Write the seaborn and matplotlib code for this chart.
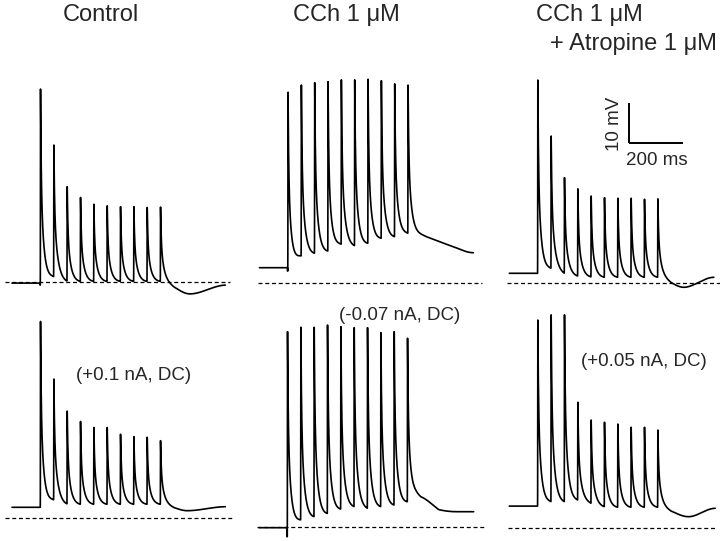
import numpy as np
import pandas as pd
import matplotlib
matplotlib.use("Agg")
import matplotlib.pyplot as plt
import seaborn as sns

# 10 stimuli at 20 Hz, times in ms from the start of each sweep
N_STIM = 10
STIM_ONSET = 107
STIM_INTERVAL = 50

# --- Control (top: no current, bottom: +0.1 nA DC) ---  values in mV above the dashed line
ctrl_top_base = -0.2
ctrl_top_dip = -0.7
ctrl_top_peaks = [48.3, 34.3, 23.9, 21.2, 19.5, 19.1, 18.9, 18.9, 18.7, 18.8]
ctrl_top_troughs = [1.4, 0.3, 0.2, 0.2, 0.2, 0.2, 0.2, 0.2, 0.2]
ctrl_top_post_t = [110, 245]          # ms after last stimulus
ctrl_top_post_v = [-2.9, -0.7]

ctrl_bot_base = 2.75
ctrl_bot_dip = 2.75
ctrl_bot_peaks = [49.2, 34.8, 26.8, 24.2, 22.7, 22.7, 21.0, 20.4, 20.25, 19.4]
ctrl_bot_troughs = [4.6, 3.6, 3.5, 3.5, 3.5, 3.5, 3.5, 3.5, 3.5]
ctrl_bot_post_t = [100, 245]
ctrl_bot_post_v = [1.9, 2.9]

# --- CCh 1 uM (top: no current, bottom: -0.07 nA DC) ---
cch_top_base = 3.75
cch_top_dip = 2.9
cch_top_peaks = [47.6, 49.4, 50.0, 50.25, 50.7, 50.7, 50.85, 50.5, 49.7, 49.4]
cch_top_troughs = [6.7, 7.35, 7.9, 9.6, 9.25, 9.85, 11.1, 11.5, 12.35]
cch_top_post_t = [44, 69, 119, 169, 244]
cch_top_post_v = [12.2, 11.5, 10.25, 9.0, 7.5]

cch_bot_base = -0.25
cch_bot_dip = -2.5
cch_bot_peaks = [48.75, 49.85, 49.85, 50.4, 50.0, 49.75, 49.75, 48.5, 48.75, 47.1]
cch_bot_troughs = [1.7, 2.5, 3.3, 4.4, 5.0, 4.6, 5.0, 5.4, 6.25]
cch_bot_post_t = [34, 53, 71, 96, 121, 184, 246]
cch_bot_post_v = [7.8, 7.4, 6.7, 5.4, 4.2, 3.75, 3.75]

# --- CCh 1 uM + Atropine 1 uM (top: no current, bottom: +0.05 nA DC) ---
atr_top_base = 2.5
atr_top_dip = 2.5
atr_top_peaks = [50.8, 36.8, 26.4, 23.6, 21.8, 21.4, 21.25, 21.25, 21.0, 21.1]
atr_top_troughs = [3.75, 2.5, 1.8, 1.6, 1.5, 1.5, 1.5, 1.5, 1.5]
atr_top_post_t = [97, 210]
atr_top_post_v = [-1.0, 1.5]

atr_bot_base = 5.4
atr_bot_dip = 5.4
atr_bot_peaks = [51.9, 53.2, 53.2, 31.35, 26.9, 26.35, 25.9, 25.1, 25.1, 24.4]
atr_bot_troughs = [6.5, 6.5, 6.9, 6.1, 5.25, 5.1, 5.1, 5.1, 5.1]
atr_bot_post_t = [115, 215]
atr_bot_post_v = [2.75, 4.85]

titles = ["Control", "CCh 1 \u03bcM", "CCh 1 \u03bcM"]
dc_labels = ["(+0.1 nA, DC)", "(-0.07 nA, DC)", "(+0.05 nA, DC)"]

# layout (pixels in a 720 x 541 image)
W, H = 720, 541
PX_MS = 0.2667   # px per ms
PX_MV = 4.0      # px per mV
XLIM = (-40, 860)
YLIM = (-12, 58)


def pchip(t, kt, kv):
    # monotone cubic (Fritsch-Carlson) through the read key points
    kt = np.asarray(kt, float)
    kv = np.asarray(kv, float)
    h = np.diff(kt)
    delta = np.diff(kv) / h
    d = np.zeros(len(kt))
    for i in range(1, len(kt) - 1):
        if delta[i - 1] * delta[i] > 0:
            w1 = 2 * h[i] + h[i - 1]
            w2 = h[i] + 2 * h[i - 1]
            d[i] = (w1 + w2) / (w1 / delta[i - 1] + w2 / delta[i])
    out = np.full_like(t, kv[-1])
    out[t < kt[0]] = kv[0]
    for i in range(len(kt) - 1):
        m = (t >= kt[i]) & (t < kt[i + 1])
        u = (t[m] - kt[i]) / h[i]
        h00 = 2 * u**3 - 3 * u**2 + 1
        h10 = u**3 - 2 * u**2 + u
        h01 = -2 * u**3 + 3 * u**2
        h11 = u**3 - u**2
        out[m] = h00 * kv[i] + h10 * h[i] * d[i] + h01 * kv[i + 1] + h11 * h[i] * d[i + 1]
    return out


def fast_shape(s, rise=0.8):
    g = lambda x: 0.45 * np.exp(-x / 2.5) + 0.55 * np.exp(-x / 12.0)
    g_end = g(STIM_INTERVAL)
    f = np.zeros_like(s)
    r = (s >= -rise) & (s < 0)
    f[r] = (s[r] + rise) / rise
    d = s >= 0
    f[d] = np.clip((g(s[d]) - g_end) / (1 - g_end), 0, None)
    return f


def build_trace(base, dip, peaks, troughs, post_t, post_v, duration, dt=0.25):
    t = np.arange(0, duration, dt)
    stim_t = STIM_ONSET + STIM_INTERVAL * np.arange(N_STIM)
    kt = [0, stim_t[0]] + list(stim_t[1:]) + list(stim_t[-1] + np.asarray(post_t))
    kv = [base, base] + list(troughs) + list(post_v)
    env = pchip(t, kt, kv)
    v = env.copy()
    for k, ts in enumerate(stim_t):
        env_k = np.interp(ts, t, env)
        v += (peaks[k] - env_k) * fast_shape(t - ts)
    # stimulus artefact before the first response
    art = (t >= stim_t[0] - 2.0) & (t < stim_t[0] - 0.8)
    v[art] = dip
    return pd.DataFrame({"t": t, "v": v})


panels = [
    # (data, x of sweep start px, y of dashed line px, dashed extent ms)
    (build_trace(ctrl_top_base, ctrl_top_dip, ctrl_top_peaks, ctrl_top_troughs,
                 ctrl_top_post_t, ctrl_top_post_v, 800), 12, 282.3, (-26, 817)),
    (build_trace(ctrl_bot_base, ctrl_bot_dip, ctrl_bot_peaks, ctrl_bot_troughs,
                 ctrl_bot_post_t, ctrl_bot_post_v, 800), 12, 518.3, (-26, 829)),
    (build_trace(cch_top_base, cch_top_dip, cch_top_peaks, cch_top_troughs,
                 cch_top_post_t, cch_top_post_v, 802), 259.5, 282.7, (-6, 834)),
    (build_trace(cch_bot_base, cch_bot_dip, cch_bot_peaks, cch_bot_troughs,
                 cch_bot_post_t, cch_bot_post_v, 805), 259.0, 526.7, (-6, 845)),
    (build_trace(atr_top_base, atr_top_dip, atr_top_peaks, atr_top_troughs,
                 atr_top_post_t, atr_top_post_v, 767), 509.3, 283.3, (-10, 800)),
    (build_trace(atr_bot_base, atr_bot_dip, atr_bot_peaks, atr_bot_troughs,
                 atr_bot_post_t, atr_bot_post_v, 772), 509.3, 527.7, (-5, 771)),
]

sns.set_theme(style="white")
plt.rcParams["font.family"] = ["Liberation Sans", "DejaVu Sans"]

fig = plt.figure(figsize=(W / 100, H / 100), dpi=100)
fig.patch.set_facecolor("white")

axes = []
for df, x0, y0, dash in panels:
    left = x0 + XLIM[0] * PX_MS
    width = (XLIM[1] - XLIM[0]) * PX_MS
    top = y0 - YLIM[1] * PX_MV
    height = (YLIM[1] - YLIM[0]) * PX_MV
    ax = fig.add_axes([left / W, 1 - (top + height) / H, width / W, height / H])
    ax.set_xlim(*XLIM)
    ax.set_ylim(*YLIM)
    ax.axis("off")
    ax.patch.set_alpha(0)
    ax.plot(dash, [0, 0], color="black", lw=0.9, ls=(0, (3.2, 2.2)), clip_on=False)
    sns.lineplot(data=df, x="t", y="v", ax=ax, color="black", lw=1.2,
                 estimator=None, sort=False, legend=False)
    for ln in ax.lines:
        ln.set_clip_on(False)
    axes.append(ax)

# scale bar in the CCh + atropine panel
sb = axes[4]
sb.plot([450, 450], [35, 45], color="black", lw=1.4, solid_capstyle="butt", clip_on=False)
sb.plot([450, 650], [35, 35], color="black", lw=1.4, solid_capstyle="butt", clip_on=False)
sb.text(396, 39.8, "10 mV", rotation=90, ha="center", va="center", fontsize=13.5)
sb.text(554, 30.7, "200 ms", ha="center", va="center", fontsize=13.5)


def fx(x):
    return x / W


def fy(y):
    return 1 - y / H


fig.text(fx(63), fy(21), titles[0], ha="left", va="baseline", fontsize=17)
fig.text(fx(293), fy(21), titles[1], ha="left", va="baseline", fontsize=17)
fig.text(fx(536), fy(21), titles[2], ha="left", va="baseline", fontsize=17)
fig.text(fx(717), fy(50), "+ Atropine 1 \u03bcM", ha="right", va="baseline", fontsize=17)

fig.text(fx(134), fy(375), dc_labels[0], ha="center", va="center", fontsize=13.5)
fig.text(fx(399.5), fy(315), dc_labels[1], ha="center", va="center", fontsize=13.5)
fig.text(fx(644), fy(362), dc_labels[2], ha="center", va="center", fontsize=13.5)

fig.savefig("out.png", dpi=100, facecolor="white")
